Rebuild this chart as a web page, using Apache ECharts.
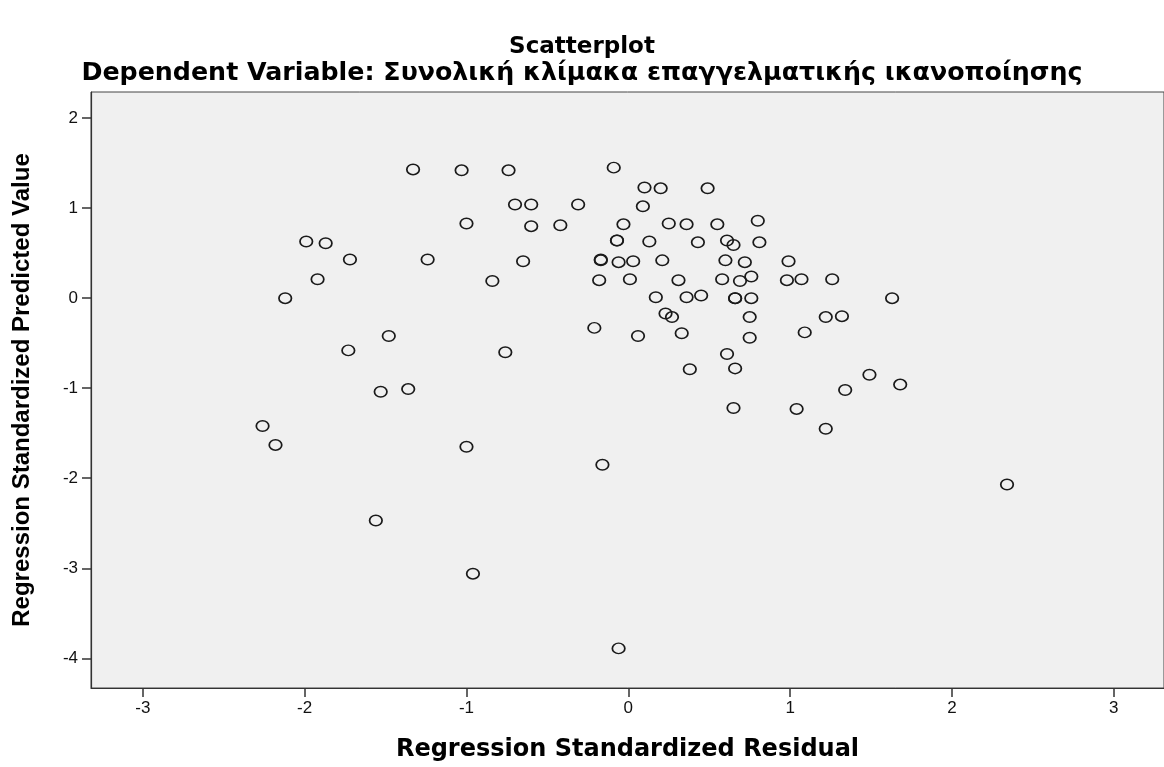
<!DOCTYPE html>
<html>
<head>
<meta charset="utf-8">
<script src="https://cdn.jsdelivr.net/npm/echarts@6/dist/echarts.min.js"></script>
<style>
html,body{margin:0;padding:0;background:#ffffff;}
#chart{width:1164px;height:767px;}
</style>
</head>
<body>
<div id="chart"></div>
<script>
// Regression Standardized Residual (x) for each case
const residuals = [
  -1.33,-1.03,-0.74,-0.09,0.10,0.20,0.49,-0.70,-0.60,-0.31,
  0.09,-1.00,-0.60,-0.42,-0.03,0.25,0.36,0.55,0.80,-1.99,
  -1.87,-0.07,-0.07,0.13,0.43,0.61,0.65,0.81,-1.72,-1.24,
  -0.65,-0.17,-0.17,-0.06,0.03,0.21,0.60,0.72,0.99,-1.92,
  -0.84,-0.18,0.01,0.31,0.58,0.69,0.76,0.98,1.07,1.26,
  -2.12,0.17,0.36,0.45,0.66,0.66,0.76,1.63,0.23,0.27,
  0.75,1.22,1.32,-0.21,0.06,0.33,0.75,1.09,-1.48,-1.73,
  -0.76,0.61,0.66,0.38,1.49,1.34,1.68,-1.36,-1.53,0.65,
  1.04,1.22,-2.26,-2.18,-1.00,-0.16,2.34,-1.56,-0.96,-0.06
];
// Regression Standardized Predicted Value (y) for each case
const predicted = [
  1.43,1.42,1.42,1.45,1.23,1.22,1.22,1.04,1.04,1.04,
  1.02,0.83,0.80,0.81,0.82,0.83,0.82,0.82,0.86,0.63,
  0.61,0.64,0.64,0.63,0.62,0.64,0.59,0.62,0.43,0.43,
  0.41,0.42,0.43,0.40,0.41,0.42,0.42,0.40,0.41,0.21,
  0.19,0.20,0.21,0.20,0.21,0.19,0.24,0.20,0.21,0.21,
  0.00,0.01,0.01,0.03,0.00,0.00,0.00,0.00,-0.17,-0.21,
  -0.21,-0.21,-0.20,-0.33,-0.42,-0.39,-0.44,-0.38,-0.42,-0.58,
  -0.60,-0.62,-0.78,-0.79,-0.85,-1.02,-0.96,-1.01,-1.04,-1.22,
  -1.23,-1.45,-1.42,-1.63,-1.65,-1.85,-2.07,-2.47,-3.06,-3.89
];
const xTicks = [-3,-2,-1,0,1,2,3];
const yTicks = [-4,-3,-2,-1,0,1,2];

const titleText = 'Scatterplot';
const subtitleText = 'Dependent Variable: Συνολική κλίμακα επαγγελματικής ικανοποίησης';
const xName = 'Regression Standardized Residual';
const yName = 'Regression Standardized Predicted Value';

const points = residuals.map((r, i) => [r, predicted[i]]);

const chart = echarts.init(document.getElementById('chart'), null, {renderer: 'canvas'});
chart.setOption({
  backgroundColor: '#ffffff',
  animation: false,
  title: [
    {
      text: titleText, left: 'center', top: 36, padding: 0,
      textStyle: {fontFamily: 'DejaVu Sans', fontWeight: 'bold', fontSize: 23, color: '#000'}
    },
    {
      text: subtitleText, left: 'center', top: 61, padding: 0,
      textStyle: {fontFamily: 'DejaVu Sans', fontWeight: 'bold', fontSize: 25.3, color: '#000'}
    }
  ],
  grid: {
    left: 91, right: 0, top: 92, bottom: 76,
    show: true, backgroundColor: '#f0f0f0', borderColor: '#444', borderWidth: 1,
    containLabel: false
  },
  xAxis: {
    type: 'value', min: -3.32, max: 3.31,
    name: xName, nameLocation: 'middle', nameGap: 50,
    nameTextStyle: {fontFamily: 'DejaVu Sans', fontWeight: 'bold', fontSize: 24, color: '#000'},
    axisLine: {show: true, onZero: false, lineStyle: {color: '#333', width: 1.2}},
    axisTick: {show: true, length: 9, customValues: xTicks, lineStyle: {color: '#333', width: 1.5}},
    axisLabel: {customValues: xTicks, margin: 12, fontFamily: 'Liberation Sans', fontSize: 17, color: '#111'},
    splitLine: {show: false}
  },
  yAxis: {
    type: 'value', min: -4.33, max: 2.29,
    name: yName, nameLocation: 'middle', nameGap: 57, nameRotate: 90,
    nameTextStyle: {fontFamily: 'Liberation Sans', fontWeight: 'bold', fontSize: 24, color: '#000'},
    axisLine: {show: true, onZero: false, lineStyle: {color: '#333', width: 1.2}},
    axisTick: {show: true, length: 9, customValues: yTicks, lineStyle: {color: '#333', width: 1.5}},
    axisLabel: {customValues: yTicks, margin: 13, fontFamily: 'Liberation Sans', fontSize: 17, color: '#111'},
    splitLine: {show: false}
  },
  series: [{
    type: 'scatter',
    data: points,
    symbol: 'circle',
    symbolSize: [12.5, 10.5],
    itemStyle: {color: 'rgba(0,0,0,0)', borderColor: '#1a1a1a', borderWidth: 1.6, opacity: 1},
    emphasis: {disabled: true}
  }]
});
</script>
</body>
</html>
